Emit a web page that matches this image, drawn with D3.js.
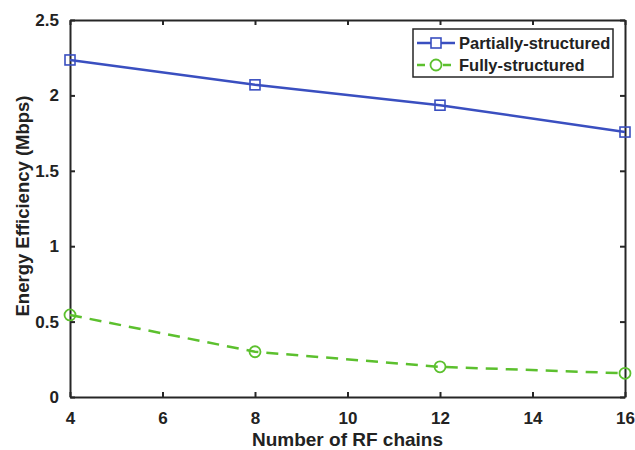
<!DOCTYPE html>
<html lang="en">
<head>
<meta charset="utf-8">
<title>Energy Efficiency vs RF chains</title>
<style>
body { margin: 0; background: #fff; }
text { font-family: "Liberation Sans", Arial, sans-serif; font-weight: bold; fill: #222; }
</style>
<script src="https://cdn.jsdelivr.net/npm/d3@7"></script>
</head>
<body>
<div id="chart"></div>
<script>
// data
var rfChains = [4, 8, 12, 16];
var partial = [2.235, 2.07, 1.935, 1.757];
var fully = [0.544, 0.30, 0.20, 0.157];
var xTicks = [4, 6, 8, 10, 12, 14, 16];
var yTicks = [0, 0.5, 1, 1.5, 2, 2.5];
var seriesNames = ['Partially-structured', 'Fully-structured'];

var W = 635, H = 450;
var margin = { top: 20, right: 10, bottom: 53, left: 70 };
var width = W - margin.left - margin.right, height = H - margin.top - margin.bottom;

var svg = d3.select('#chart').append('svg')
  .attr('width', W).attr('height', H);
var g = svg.append('g')
  .attr('transform', 'translate(' + margin.left + ',' + margin.top + ')');

var x = d3.scaleLinear().domain([4, 16]).range([0, width]);
var y = d3.scaleLinear().domain([0, 2.5]).range([height, 0]);

// axes with inward ticks, box style
function styleAxis(sel) {
  sel.select('.domain').attr('stroke', '#262626').attr('stroke-width', 2);
  sel.selectAll('.tick line').attr('stroke', '#262626').attr('stroke-width', 2);
  sel.selectAll('text').style('font-size', '17px');
}
g.append('g').attr('transform', 'translate(0,' + height + ')')
  .call(d3.axisBottom(x).tickValues(xTicks).tickSizeInner(-5).tickSizeOuter(0).tickPadding(15))
  .call(styleAxis);
g.append('g')
  .call(d3.axisTop(x).tickValues(xTicks).tickSizeInner(-5).tickSizeOuter(0).tickFormat(''))
  .call(styleAxis);
g.append('g')
  .call(d3.axisLeft(y).tickValues(yTicks).tickSizeInner(-5).tickSizeOuter(0).tickPadding(11).tickFormat(d3.format('')))
  .call(styleAxis);
g.append('g').attr('transform', 'translate(' + width + ',0)')
  .call(d3.axisRight(y).tickValues(yTicks).tickSizeInner(-5).tickSizeOuter(0).tickFormat(''))
  .call(styleAxis);

var line = d3.line().x(function(d) { return x(d[0]); }).y(function(d) { return y(d[1]); });

var pData = d3.zip(rfChains, partial);
var fData = d3.zip(rfChains, fully);

g.append('path').datum(pData).attr('d', line)
  .attr('fill', 'none').attr('stroke', '#3a4fc0').attr('stroke-width', 2.5);
g.selectAll('.psq').data(pData).enter().append('rect')
  .attr('x', function(d) { return x(d[0]) - 5; })
  .attr('y', function(d) { return y(d[1]) - 5; })
  .attr('width', 10).attr('height', 10)
  .attr('fill', 'none').attr('stroke', '#3a4fc0').attr('stroke-width', 1.6);

g.append('path').datum(fData).attr('d', line)
  .attr('fill', 'none').attr('stroke', '#5cc02e').attr('stroke-width', 2.5)
  .attr('stroke-dasharray', '12,8');
g.selectAll('.fci').data(fData).enter().append('circle')
  .attr('cx', function(d) { return x(d[0]); })
  .attr('cy', function(d) { return y(d[1]); })
  .attr('r', 5.5)
  .attr('fill', 'none').attr('stroke', '#5cc02e').attr('stroke-width', 1.8);

// axis titles
svg.append('text')
  .attr('x', margin.left + width / 2).attr('y', 446)
  .attr('text-anchor', 'middle').style('font-size', '19px')
  .text('Number of RF chains');
svg.append('text')
  .attr('transform', 'translate(29,' + 206 + ') rotate(-90)')
  .attr('text-anchor', 'middle').style('font-size', '18.5px')
  .text('Energy Efficiency (Mbps)');

// legend
var lg = svg.append('g').attr('transform', 'translate(413,29)');
lg.append('rect').attr('width', 200).attr('height', 48)
  .attr('fill', '#fff').attr('stroke', '#262626').attr('stroke-width', 1.5);
var lgRows = lg.selectAll('.row').data(seriesNames).enter().append('g')
  .attr('transform', function(d, i) { return 'translate(0,' + (14 + i * 22) + ')'; });
lgRows.append('line').attr('x1', 4).attr('x2', 42).attr('y1', 0).attr('y2', 0)
  .attr('stroke', function(d, i) { return i ? '#5cc02e' : '#3a4fc0'; })
  .attr('stroke-width', 2.5)
  .attr('stroke-dasharray', function(d, i) { return i ? '8,5' : null; });
lgRows.filter(function(d, i) { return i === 0; }).append('rect')
  .attr('x', 18).attr('y', -5).attr('width', 10).attr('height', 10)
  .attr('fill', '#fff').attr('stroke', '#3a4fc0').attr('stroke-width', 1.6);
lgRows.filter(function(d, i) { return i === 1; }).append('circle')
  .attr('cx', 23).attr('cy', 0).attr('r', 5.5)
  .attr('fill', '#fff').attr('stroke', '#5cc02e').attr('stroke-width', 1.8);
lgRows.append('text').attr('x', 46).attr('y', 6)
  .style('font-size', '16.5px').text(function(d) { return d; });
</script>
</body>
</html>
